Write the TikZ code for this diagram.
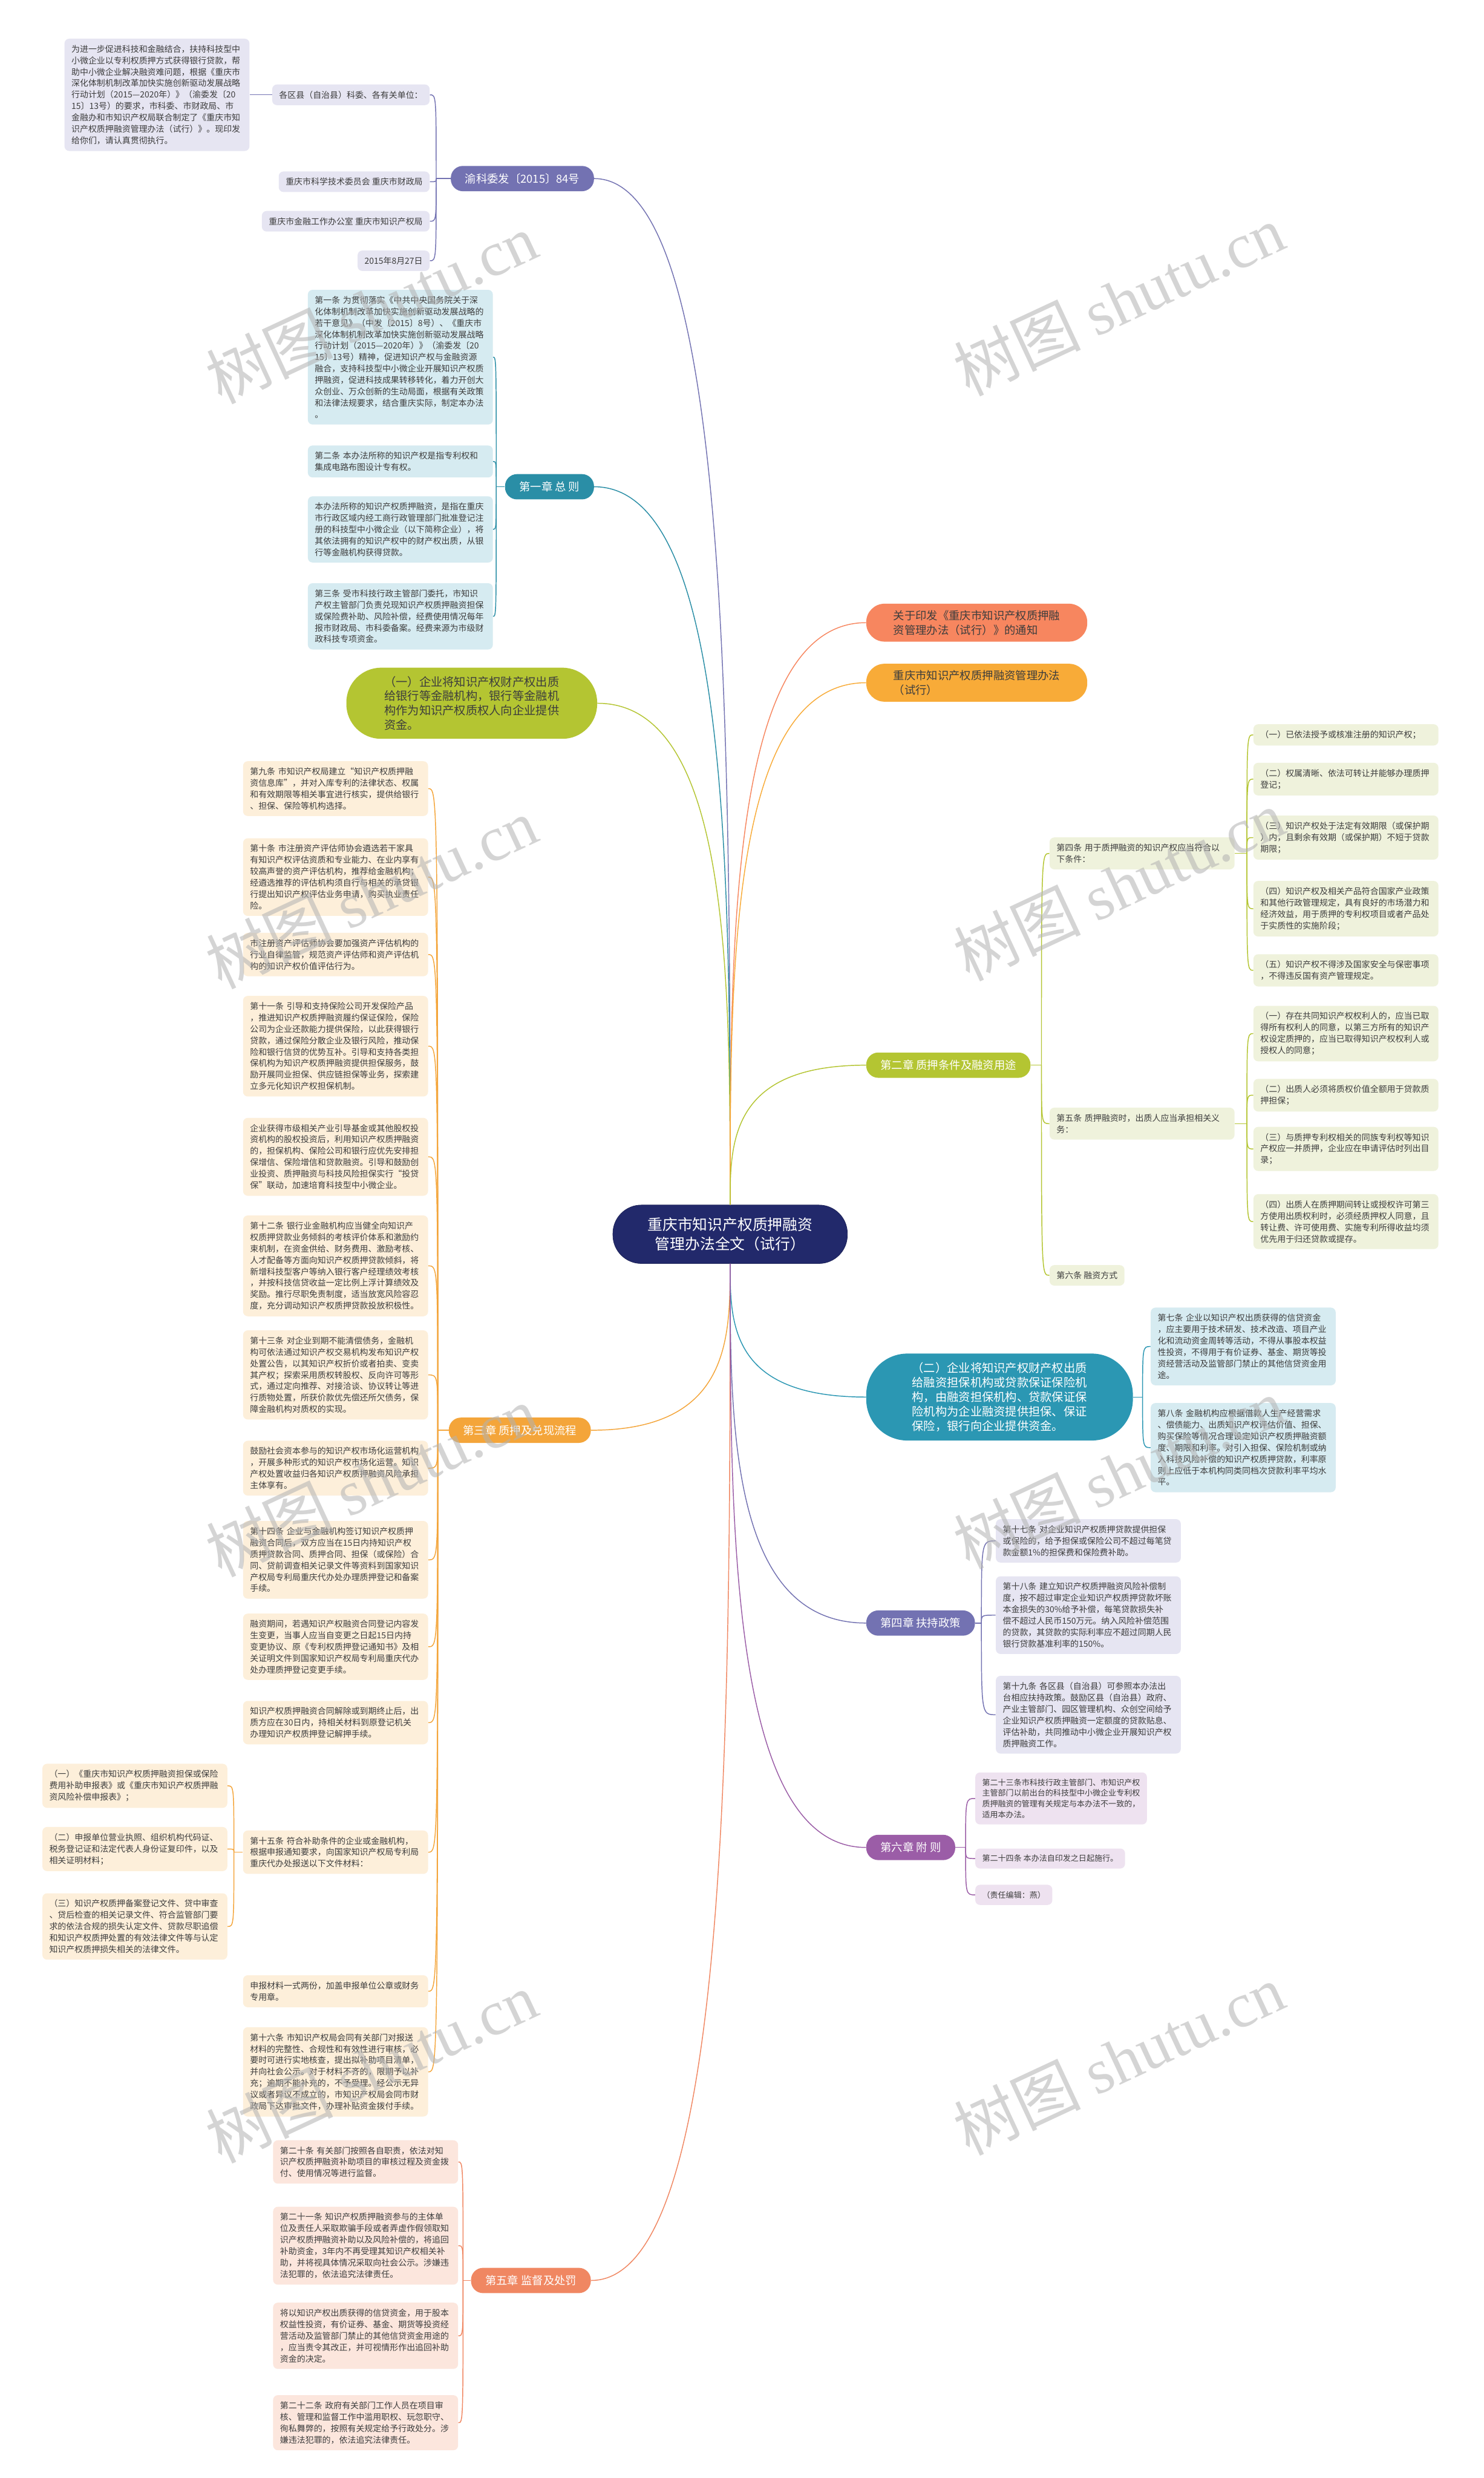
\documentclass[tikz,border=0pt]{standalone}
\usepackage{fontspec}
\setmainfont{Noto Sans CJK SC}
\newfontfamily\wmlat{Liberation Serif}
\usetikzlibrary{calc}
\definecolor{mmroot}{HTML}{22296B}
\definecolor{mmpurp}{HTML}{7372B2}
\definecolor{mmpurpl}{HTML}{E6E5F2}
\definecolor{mmteal}{HTML}{2A8EA6}
\definecolor{mmteall}{HTML}{D6EBF1}
\definecolor{mmlime}{HTML}{B4C532}
\definecolor{mmlimel}{HTML}{EFF2DC}
\definecolor{mmorng}{HTML}{F4A53A}
\definecolor{mmorngl}{HTML}{FDEFDA}
\definecolor{mmcoral}{HTML}{F08762}
\definecolor{mmcorall}{HTML}{FCE6DD}
\definecolor{mmblue}{HTML}{2B97B3}
\definecolor{mmviol}{HTML}{9B5DA7}
\definecolor{mmviold}{HTML}{EEE2F0}
\definecolor{mmtext}{HTML}{3D3D3D}
\definecolor{mmtopa}{HTML}{F7865F}
\definecolor{mmtopb}{HTML}{F8AB38}
\newcommand{\leaffont}{\fontsize{7.6}{10.3}\selectfont}
\newcommand{\smallleaf}{\fontsize{7.1}{9.6}\selectfont}
\newcommand{\chapfont}{\fontsize{10}{13}\selectfont}
\newcommand{\pillfont}{\fontsize{10.5}{13}\selectfont}
\newcommand{\rootlink}[4]{\draw[link=#4] (root.#1) .. controls ($(root.#1)!0.45!(root.#1 |- #2.#3)$) and (root.#1 |- #2.#3) .. (#2.#3);}
\tikzset{
  leaf/.style={fill=#1,rounded corners=0.15cm,inner xsep=0.22cm,inner ysep=0.2cm,
    font=\leaffont,text=mmtext,align=left,text width=154pt},
  leafs/.style={fill=#1,rounded corners=0.15cm,inner xsep=0.22cm,inner ysep=0.2cm,
    font=\leaffont,text=mmtext,align=left},
  chap/.style={fill=#1,rounded corners=0.38cm,inner xsep=0.45cm,minimum height=0.8cm,
    font=\chapfont,text=white},
  pill/.style={fill=#1,align=left,font=\pillfont,inner ysep=0.2cm},
  link/.style={draw=#1,line width=0.8pt},
  wmark/.style={rotate=25,text=black!30,opacity=0.55,font=\fontsize{57}{57}\selectfont}
}
\begin{document}
\begin{tikzpicture}[x=0.05cm,y=0.05cm]
  \useasboundingbox (0,0) rectangle (939,-1568);
  \fill[white] (0,0) rectangle (939,-1568);
  \node[fill=mmroot,draw=mmroot!80!black,text=white,font=\fontsize{13.5}{17}\selectfont,align=center,
    rounded corners=0.9cm,minimum height=1.85cm,inner xsep=1.1cm] (root) at (462,-781)
    {重庆市知识产权质押融资\\管理办法全文（试行）};
  % left: 渝科委发
  \node[chap=mmpurp,anchor=east] (ykw) at (376,-113) {渝科委发〔2015〕84号};
  \node[leafs=mmpurpl,anchor=east] (qx) at (272,-60) {各区县（自治县）科委、各有关单位：};
  \node[leafs=mmpurpl,anchor=east] (kw) at (272,-115) {重庆市科学技术委员会 重庆市财政局};
  \node[leafs=mmpurpl,anchor=east] (jr) at (272,-140) {重庆市金融工作办公室 重庆市知识产权局};
  \node[leafs=mmpurpl,anchor=east] (rq) at (272,-165) {2015年8月27日};
  \node[leaf=mmpurpl,anchor=east] (par) at (158,-60) {为进一步促进科技和金融结合，扶持科技型中\\小微企业以专利权质押方式获得银行贷款，帮\\助中小微企业解决融资难问题，根据《重庆市\\深化体制机制改革加快实施创新驱动发展战略\\行动计划（2015—2020年）》（渝委发〔20\\15〕13号）的要求，市科委、市财政局、市\\金融办和市知识产权局联合制定了《重庆市知\\识产权质押融资管理办法（试行）》。现印发\\给你们，请认真贯彻执行。};
  \draw[link=mmpurp] (qx.west) -- (par.east);
  \draw[link=mmpurp] (ykw.west) -- (276,-113) coordinate (j0);
  \foreach \c in {qx,kw,jr,rq} \draw[link=mmpurp] (j0) .. controls (j0 |- \c.east) .. (\c.east);
  % left: 第一章
  \node[chap=mmteal,anchor=east] (c1) at (376,-308) {第一章 总 则};
  \node[leaf=mmteall,anchor=east] (a1) at (312,-226) {第一条 为贯彻落实《中共中央国务院关于深\\化体制机制改革加快实施创新驱动发展战略的\\若干意见》（中发〔2015〕8号）、《重庆市\\深化体制机制改革加快实施创新驱动发展战略\\行动计划（2015—2020年）》（渝委发〔20\\15〕13号）精神，促进知识产权与金融资源\\融合，支持科技型中小微企业开展知识产权质\\押融资，促进科技成果转移转化，着力开创大\\众创业、万众创新的生动局面，根据有关政策\\和法律法规要求，结合重庆实际，制定本办法\\。};
  \node[leaf=mmteall,anchor=east] (a2) at (312,-292) {第二条 本办法所称的知识产权是指专利权和\\集成电路布图设计专有权。};
  \node[leaf=mmteall,anchor=east] (a2b) at (312,-335) {本办法所称的知识产权质押融资，是指在重庆\\市行政区域内经工商行政管理部门批准登记注\\册的科技型中小微企业（以下简称企业），将\\其依法拥有的知识产权中的财产权出质，从银\\行等金融机构获得贷款。};
  \node[leaf=mmteall,anchor=east] (a3) at (312,-390) {第三条 受市科技行政主管部门委托，市知识\\产权主管部门负责兑现知识产权质押融资担保\\或保险费补助、风险补偿，经费使用情况每年\\报市财政局、市科委备案。经费来源为市级财\\政科技专项资金。};
  \draw[link=mmteal] (c1.west) -- (314,-308) coordinate (j1);
  \foreach \c in {a1,a2,a2b,a3} \draw[link=mmteal] (j1) .. controls (j1 |- \c.east) .. (\c.east);
  % left: (一)
  \node[pill=mmlime,text=mmtext,anchor=east,rounded corners=1.1cm,inner xsep=1.2cm,minimum height=2.25cm] (p1) at (378,-445) {（一）企业将知识产权财产权出质\\给银行等金融机构，银行等金融机\\构作为知识产权质权人向企业提供\\资金。};
  % left: 第三章
  \node[chap=mmorng,anchor=east] (c3) at (374,-905) {第三章 质押及兑现流程};
  \node[leaf=mmorngl,anchor=east] (b9) at (271,-499) {第九条 市知识产权局建立“知识产权质押融\\资信息库”，并对入库专利的法律状态、权属\\和有效期限等相关事宜进行核实，提供给银行\\、担保、保险等机构选择。};
  \node[leaf=mmorngl,anchor=east] (b10) at (271,-555) {第十条 市注册资产评估师协会遴选若干家具\\有知识产权评估资质和专业能力、在业内享有\\较高声誉的资产评估机构，推荐给金融机构；\\经遴选推荐的评估机构须自行与相关的承贷银\\行提出知识产权评估业务申请，购买执业责任\\险。};
  \node[leaf=mmorngl,anchor=east] (b10b) at (271,-604) {市注册资产评估师协会要加强资产评估机构的\\行业自律监管，规范资产评估师和资产评估机\\构的知识产权价值评估行为。};
  \node[leaf=mmorngl,anchor=east] (b11) at (271,-662) {第十一条 引导和支持保险公司开发保险产品\\，推进知识产权质押融资履约保证保险，保险\\公司为企业还款能力提供保险，以此获得银行\\贷款，通过保险分散企业及银行风险，推动保\\险和银行信贷的优势互补。引导和支持各类担\\保机构为知识产权质押融资提供担保服务，鼓\\励开展同业担保、供应链担保等业务，探索建\\立多元化知识产权担保机制。};
  \node[leaf=mmorngl,anchor=east] (b11b) at (271,-732) {企业获得市级相关产业引导基金或其他股权投\\资机构的股权投资后，利用知识产权质押融资\\的，担保机构、保险公司和银行应优先安排担\\保增信、保险增信和贷款融资。引导和鼓励创\\业投资、质押融资与科技风险担保实行“投贷\\保”联动，加速培育科技型中小微企业。};
  \node[leaf=mmorngl,anchor=east] (b12) at (271,-801) {第十二条 银行业金融机构应当健全向知识产\\权质押贷款业务倾斜的考核评价体系和激励约\\束机制，在资金供给、财务费用、激励考核、\\人才配备等方面向知识产权质押贷款倾斜，将\\新增科技型客户等纳入银行客户经理绩效考核\\，并按科技信贷收益一定比例上浮计算绩效及\\奖励。推行尽职免责制度，适当放宽风险容忍\\度，充分调动知识产权质押贷款投放积极性。};
  \node[leaf=mmorngl,anchor=east] (b13) at (271,-870) {第十三条 对企业到期不能清偿债务，金融机\\构可依法通过知识产权交易机构发布知识产权\\处置公告，以其知识产权折价或者拍卖、变卖\\其产权；探索采用质权转股权、反向许可等形\\式，通过定向推荐、对接洽谈、协议转让等进\\行质物处置，所获价款优先偿还所欠债务，保\\障金融机构对质权的实现。};
  \node[leaf=mmorngl,anchor=east] (b13b) at (271,-929) {鼓励社会资本参与的知识产权市场化运营机构\\，开展多种形式的知识产权市场化运营。知识\\产权处置收益归各知识产权质押融资风险承担\\主体享有。};
  \node[leaf=mmorngl,anchor=east] (b14) at (271,-987) {第十四条 企业与金融机构签订知识产权质押\\融资合同后，双方应当在15日内持知识产权\\质押贷款合同、质押合同、担保（或保险）合\\同、贷前调查相关记录文件等资料到国家知识\\产权局专利局重庆代办处办理质押登记和备案\\手续。};
  \node[leaf=mmorngl,anchor=east] (b14b) at (271,-1042) {融资期间，若遇知识产权融资合同登记内容发\\生变更，当事人应当自变更之日起15日内持\\变更协议、原《专利权质押登记通知书》及相\\关证明文件到国家知识产权局专利局重庆代办\\处办理质押登记变更手续。};
  \node[leaf=mmorngl,anchor=east] (b14c) at (271,-1090) {知识产权质押融资合同解除或到期终止后，出\\质方应在30日内，持相关材料到原登记机关\\办理知识产权质押登记解押手续。};
  \node[leaf=mmorngl,anchor=east] (b15) at (271,-1172) {第十五条 符合补助条件的企业或金融机构，\\根据申报通知要求，向国家知识产权局专利局\\重庆代办处报送以下文件材料：};
  \node[leaf=mmorngl,anchor=east] (b15b) at (271,-1260) {申报材料一式两份，加盖申报单位公章或财务\\专用章。};
  \node[leaf=mmorngl,anchor=east] (b16) at (271,-1311) {第十六条 市知识产权局会同有关部门对报送\\材料的完整性、合规性和有效性进行审核，必\\要时可进行实地核查，提出拟补助项目清单，\\并向社会公示。对于材料不齐的，限期予以补\\充；逾期不能补充的，不予受理。经公示无异\\议或者异议不成立的，市知识产权局会同市财\\政局下达审批文件，办理补贴资金拨付手续。};
  \node[leaf=mmorngl,anchor=east] (q1) at (144,-1130) {（一）《重庆市知识产权质押融资担保或保险\\费用补助申报表》或《重庆市知识产权质押融\\资风险补偿申报表》；};
  \node[leaf=mmorngl,anchor=east] (q2) at (144,-1170) {（二）申报单位营业执照、组织机构代码证、\\税务登记证和法定代表人身份证复印件，以及\\相关证明材料；};
  \node[leaf=mmorngl,anchor=east] (q3) at (144,-1219) {（三）知识产权质押备案登记文件、贷中审查\\、贷后检查的相关记录文件、符合监管部门要\\求的依法合规的损失认定文件、贷款尽职追偿\\和知识产权质押处置的有效法律文件等与认定\\知识产权质押损失相关的法律文件。};
  \draw[link=mmorng] (c3.west) -- (277,-905) coordinate (j3);
  \foreach \c in {b9,b10,b10b,b11,b11b,b12,b13,b13b,b14,b14b,b14c,b15,b15b,b16}
    \draw[link=mmorng] (j3) .. controls (j3 |- \c.east) .. (\c.east);
  \draw[link=mmorng] (b15.west) -- (148,-1172) coordinate (j15);
  \foreach \c in {q1,q2,q3} \draw[link=mmorng] (j15) .. controls (j15 |- \c.east) .. (\c.east);
  % left: 第五章
  \node[chap=mmcoral,anchor=east] (c5) at (374,-1443) {第五章 监督及处罚};
  \node[leaf=mmcorall,anchor=east] (d20) at (290,-1368) {第二十条 有关部门按照各自职责，依法对知\\识产权质押融资补助项目的审核过程及资金拨\\付、使用情况等进行监督。};
  \node[leaf=mmcorall,anchor=east] (d21) at (290,-1421) {第二十一条 知识产权质押融资参与的主体单\\位及责任人采取欺骗手段或者弄虚作假领取知\\识产权质押融资补助以及风险补偿的，将追回\\补助资金，3年内不再受理其知识产权相关补\\助，并将视具体情况采取向社会公示。涉嫌违\\法犯罪的，依法追究法律责任。};
  \node[leaf=mmcorall,anchor=east] (d21b) at (290,-1478) {将以知识产权出质获得的信贷资金，用于股本\\权益性投资，有价证券、基金、期货等投资经\\营活动及监管部门禁止的其他信贷资金用途的\\，应当责令其改正，并可视情形作出追回补助\\资金的决定。};
  \node[leaf=mmcorall,anchor=east] (d22) at (290,-1533) {第二十二条 政府有关部门工作人员在项目审\\核、管理和监督工作中滥用职权、玩忽职守、\\徇私舞弊的，按照有关规定给予行政处分。涉\\嫌违法犯罪的，依法追究法律责任。};
  \draw[link=mmcoral] (c5.west) -- (293,-1443) coordinate (j5);
  \foreach \c in {d20,d21,d21b,d22} \draw[link=mmcoral] (j5) .. controls (j5 |- \c.east) .. (\c.east);
  % right: 通知 and 办法
  \node[pill=mmtopa,text=mmtext,anchor=west,font=\chapfont,rounded corners=0.58cm,inner xsep=0.86cm,inner ysep=0.15cm,minimum height=1.2cm] (tz) at (548,-394) {关于印发《重庆市知识产权质押融\\资管理办法（试行）》的通知};
  \node[pill=mmtopb,text=mmtext,anchor=west,font=\chapfont,rounded corners=0.58cm,inner xsep=0.86cm,inner ysep=0.15cm,minimum height=1.2cm] (bf) at (548,-432) {重庆市知识产权质押融资管理办法\\（试行）};
  % right: 第二章
  \node[chap=mmlime,anchor=west] (c2) at (548,-674) {第二章 质押条件及融资用途};
  \node[leaf=mmlimel,anchor=west] (e4) at (664,-540) {第四条 用于质押融资的知识产权应当符合以\\下条件：};
  \node[leaf=mmlimel,anchor=west] (e5) at (664,-711) {第五条 质押融资时，出质人应当承担相关义\\务：};
  \node[leafs=mmlimel,anchor=west] (e6) at (664,-807) {第六条 融资方式};
  \node[leaf=mmlimel,anchor=west] (f1) at (793,-465) {（一）已依法授予或核准注册的知识产权；};
  \node[leaf=mmlimel,anchor=west] (f2) at (793,-493) {（二）权属清晰、依法可转让并能够办理质押\\登记；};
  \node[leaf=mmlimel,anchor=west] (f3) at (793,-530) {（三）知识产权处于法定有效期限（或保护期\\）内，且剩余有效期（或保护期）不短于贷款\\期限；};
  \node[leaf=mmlimel,anchor=west] (f4) at (793,-575) {（四）知识产权及相关产品符合国家产业政策\\和其他行政管理规定，具有良好的市场潜力和\\经济效益，用于质押的专利权项目或者产品处\\于实质性的实施阶段；};
  \node[leaf=mmlimel,anchor=west] (f5) at (793,-614) {（五）知识产权不得涉及国家安全与保密事项\\，不得违反国有资产管理规定。};
  \node[leaf=mmlimel,anchor=west] (g1) at (793,-654) {（一）存在共同知识产权权利人的，应当已取\\得所有权利人的同意，以第三方所有的知识产\\权设定质押的，应当已取得知识产权权利人或\\授权人的同意；};
  \node[leaf=mmlimel,anchor=west] (g2) at (793,-693) {（二）出质人必须将质权价值全额用于贷款质\\押担保；};
  \node[leaf=mmlimel,anchor=west] (g3) at (793,-727) {（三）与质押专利权相关的同族专利权等知识\\产权应一并质押，企业应在申请评估时列出目\\录；};
  \node[leaf=mmlimel,anchor=west] (g4) at (793,-773) {（四）出质人在质押期间转让或授权许可第三\\方使用出质权利时，必须经质押权人同意，且\\转让费、许可使用费、实施专利所得收益均须\\优先用于归还贷款或提存。};
  \draw[link=mmlime] (c2.east) -- (659,-674) coordinate (j2);
  \foreach \c in {e4,e5,e6} \draw[link=mmlime] (j2) .. controls (j2 |- \c.west) .. (\c.west);
  \draw[link=mmlime] (e4.east) -- (789,-540) coordinate (j4);
  \foreach \c in {f1,f2,f3,f4,f5} \draw[link=mmlime] (j4) .. controls (j4 |- \c.west) .. (\c.west);
  \draw[link=mmlime] (e5.east) -- (789,-711) coordinate (j45);
  \foreach \c in {g1,g2,g3,g4} \draw[link=mmlime] (j45) .. controls (j45 |- \c.west) .. (\c.west);
  % right: (二)
  \node[pill=mmblue,text=white,anchor=west,rounded corners=1.3cm,inner xsep=1.45cm,minimum height=2.75cm] (p2) at (548,-884) {（二）企业将知识产权财产权出质\\给融资担保机构或贷款保证保险机\\构，由融资担保机构、贷款保证保\\险机构为企业融资提供担保、保证\\保险，银行向企业提供资金。};
  \node[leaf=mmteall,anchor=west] (h7) at (728,-852) {第七条 企业以知识产权出质获得的信贷资金\\，应主要用于技术研发、技术改造、项目产业\\化和流动资金周转等活动，不得从事股本权益\\性投资，不得用于有价证券、基金、期货等投\\资经营活动及监管部门禁止的其他信贷资金用\\途。};
  \node[leaf=mmteall,anchor=west] (h8) at (728,-916) {第八条 金融机构应根据借款人生产经营需求\\、偿债能力、出质知识产权评估价值、担保、\\购买保险等情况合理设定知识产权质押融资额\\度、期限和利率。对引入担保、保险机制或纳\\入科技风险补偿的知识产权质押贷款，利率原\\则上应低于本机构同类同档次贷款利率平均水\\平。};
  \draw[link=mmblue] (p2.east) -- (723,-884) coordinate (jp2);
  \foreach \c in {h7,h8} \draw[link=mmblue] (jp2) .. controls (jp2 |- \c.west) .. (\c.west);
  % right: 第四章
  \node[chap=mmpurp,anchor=west] (c4) at (548,-1027) {第四章 扶持政策};
  \node[leaf=mmpurpl,anchor=west] (k17) at (630,-975) {第十七条 对企业知识产权质押贷款提供担保\\或保险的，给予担保或保险公司不超过每笔贷\\款金额1\%的担保费和保险费补助。};
  \node[leaf=mmpurpl,anchor=west] (k18) at (630,-1022) {第十八条 建立知识产权质押融资风险补偿制\\度，按不超过审定企业知识产权质押贷款坏账\\本金损失的30\%给予补偿，每笔贷款损失补\\偿不超过人民币150万元。纳入风险补偿范围\\的贷款，其贷款的实际利率应不超过同期人民\\银行贷款基准利率的150\%。};
  \node[leaf=mmpurpl,anchor=west] (k19) at (630,-1085) {第十九条 各区县（自治县）可参照本办法出\\台相应扶持政策。鼓励区县（自治县）政府、\\产业主管部门、园区管理机构、众创空间给予\\企业知识产权质押融资一定额度的贷款贴息、\\评估补助，共同推动中小微企业开展知识产权\\质押融资工作。};
  \draw[link=mmpurp] (c4.east) -- (621,-1027) coordinate (jc4);
  \foreach \c in {k17,k18,k19} \draw[link=mmpurp] (jc4) .. controls (jc4 |- \c.west) .. (\c.west);
  % right: 第六章
  \node[chap=mmviol,anchor=west] (c6) at (548,-1169) {第六章 附 则};
  \node[leaf=mmviold,font=\smallleaf,text width=142pt,anchor=west] (m23) at (617,-1138) {第二十三条市科技行政主管部门、市知识产权\\主管部门以前出台的科技型中小微企业专利权\\质押融资的管理有关规定与本办法不一致的，\\适用本办法。};
  \node[leafs=mmviold,font=\smallleaf,anchor=west] (m24) at (617,-1176) {第二十四条 本办法自印发之日起施行。};
  \node[leafs=mmviold,font=\smallleaf,anchor=west] (m25) at (617,-1199) {（责任编辑：燕）};
  \draw[link=mmviol] (c6.east) -- (611,-1169) coordinate (jc6);
  \foreach \c in {m23,m24,m25} \draw[link=mmviol] (jc6) .. controls (jc6 |- \c.west) .. (\c.west);
  % root links
  \rootlink{north}{ykw}{east}{mmpurp}
  \rootlink{north}{c1}{east}{mmteal}
  \rootlink{north}{p1}{east}{mmlime}
  \rootlink{south}{c3}{east}{mmorng}
  \rootlink{south}{c5}{east}{mmcoral}
  \rootlink{north}{tz}{west}{mmtopa}
  \rootlink{north}{bf}{west}{mmtopb}
  \rootlink{north}{c2}{west}{mmlime}
  \rootlink{south}{p2}{west}{mmblue}
  \rootlink{south}{c4}{west}{mmpurp}
  \rootlink{south}{c6}{west}{mmviol}
  % watermarks
  \foreach \i/\x/\y in {1/235/195,2/708/190,3/235/565,4/708/560,5/235/937,6/708/932,7/235/1308,8/708/1303}
    \node[wmark] (wm\i) at (\x,-\y) {树图 {\wmlat shutu.cn}};
\end{tikzpicture}
\end{document}
